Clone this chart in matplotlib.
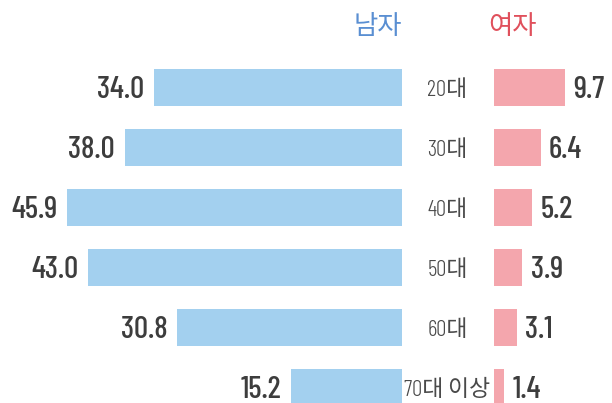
import matplotlib
matplotlib.use("Agg")
import matplotlib.pyplot as plt

plt.rcParams['font.family'] = ['Barlow Condensed', 'Noto Sans CJK KR', 'DejaVu Sans']

categories = ["20대", "30대", "40대", "50대", "60대", "70대 이상"]
male = [34.0, 38.0, 45.9, 43.0, 30.8, 15.2]
female = [9.7, 6.4, 5.2, 3.9, 3.1, 1.4]
header_male = "남자"
header_female = "여자"

W, H = 612, 403
fig = plt.figure(figsize=(W/100, H/100), dpi=100)

ppu = 7.3  # pixels per data unit
row0, step = 87.5, 60.0
ytop = -row0/step
ybot = (H-row0)/step

left_edge = 402
right_start = 494

axL = fig.add_axes([0, 0, left_edge/W, 1])
axR = fig.add_axes([right_start/W, 0, (W-right_start)/W, 1])
axM = fig.add_axes([left_edge/W, 0, (right_start-left_edge)/W, 1])

axL.set_xlim(left_edge/ppu, 0)
axR.set_xlim(0, (W-right_start)/ppu)
for ax in (axL, axR, axM):
    ax.set_ylim(ybot, ytop)
    ax.axis('off')
axM.set_xlim(left_edge, right_start)

ys = list(range(len(categories)))
axL.barh(ys, male, height=0.62, color='#a3d0ef')
axR.barh(ys, female, height=0.62, color='#f4a6ad')

numfont = dict(fontsize=22.5, fontweight=500, color='#3d3d3d',
               family=['Barlow Condensed', 'DejaVu Sans'])
for y, v in zip(ys, male):
    axL.annotate(f"{v:.1f}", (v, y), xytext=(-7, 0), textcoords='offset points',
                 ha='right', va='center_baseline', **numfont)
for y, v in zip(ys, female):
    axR.annotate(f"{v:.1f}", (v, y), xytext=(6, 0), textcoords='offset points',
                 ha='left', va='center_baseline', **numfont)
for y, c in zip(ys, categories):
    axM.text(447.5, y, c, ha='center', va='center_baseline', fontsize=16.5, color='#4a4a4a',
             fontweight=300, family=['Barlow Condensed', 'Noto Sans CJK KR'])

fig.text(378/W, 1-27/H, header_male, ha='center', va='center',
         fontsize=19, color='#5a8fd2', family=['Noto Sans CJK KR'])
fig.text(512/W, 1-27/H, header_female, ha='center', va='center',
         fontsize=19, color='#e0505c', family=['Noto Sans CJK KR'])

fig.savefig("out.png", dpi=100)
